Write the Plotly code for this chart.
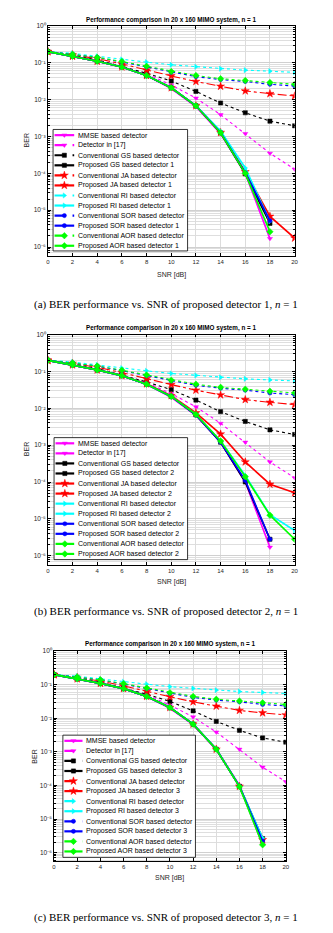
import plotly.graph_objects as go

W, H = 333, 933

# ---------------- data ----------------
snr = [0, 2, 4, 6, 8, 10, 12, 14, 16, 18, 20]

mmse = [0.2, 0.15, 0.11, 0.077, 0.045, 0.02, 0.0065, 0.0012, 1.0e-4, 1.7e-6, None]
det17 = [0.2, 0.155, 0.115, 0.08, 0.05, 0.025, 0.011, 0.0039, 0.0012, 3.5e-4, 1.3e-4]
conv_gs = [0.2, 0.16, 0.12, 0.08, 0.052, 0.032, 0.0167, 0.0081, 0.0044, 0.0026, 0.00195]
conv_ja = [0.2, 0.165, 0.13, 0.093, 0.063, 0.044, 0.031, 0.023, 0.0172, 0.0145, 0.0126]
conv_ri = [0.2, 0.18, 0.15, 0.123, 0.104, 0.088, 0.078, 0.069, 0.063, 0.059, 0.055]
conv_sor = [0.2, 0.17, 0.14, 0.105, 0.077, 0.055, 0.042, 0.035, 0.031, 0.026, 0.0234]
conv_aor = [0.2, 0.17, 0.14, 0.108, 0.08, 0.058, 0.045, 0.037, 0.033, 0.029, 0.026]

# panel (a): proposed detector 1
p1_gs = [0.2, 0.15, 0.11, 0.077, 0.045, 0.021, 0.0068, 0.00126, 9.7e-5, 4.4e-6, None]
p1_ja = [0.2, 0.15, 0.11, 0.077, 0.045, 0.021, 0.0068, 0.00128, 1.1e-4, 6.8e-6, 1.75e-6]
p1_ri = [0.2, 0.15, 0.11, 0.077, 0.045, 0.021, 0.0069, 0.0014, 1.4e-4, 5.0e-6, None]
p1_sor = [0.2, 0.15, 0.11, 0.077, 0.045, 0.021, 0.0068, 0.00128, 1.05e-4, 5.2e-6, None]
p1_aor = [0.2, 0.15, 0.11, 0.077, 0.045, 0.021, 0.0068, 0.00126, 1.0e-4, 2.6e-6, None]

# panel (b): proposed detector 2
p2_gs = [0.2, 0.15, 0.11, 0.077, 0.045, 0.021, 0.0066, 0.0012, 1.0e-4, 2.8e-6, None]
p2_ja = [0.2, 0.15, 0.11, 0.077, 0.046, 0.022, 0.0075, 0.002, 3.5e-4, 8.7e-5, 5.1e-5]
p2_ri = [0.2, 0.15, 0.11, 0.077, 0.045, 0.021, 0.0068, 0.0013, 1.5e-4, 1.3e-5, 4.8e-6]
p2_sor = [0.2, 0.15, 0.11, 0.077, 0.045, 0.021, 0.0066, 0.0012, 1.1e-4, 2.8e-6, None]
p2_aor = [0.2, 0.15, 0.11, 0.077, 0.045, 0.021, 0.0068, 0.0013, 1.4e-4, 1.26e-5, 2.8e-6]

# panel (c): proposed detector 3
p3_gs = [0.2, 0.15, 0.11, 0.077, 0.045, 0.021, 0.0067, 0.0012, 9.4e-5, 2.6e-6, None]
p3_ja = [0.2, 0.15, 0.11, 0.077, 0.045, 0.021, 0.0067, 0.0012, 9.4e-5, 2.4e-6, None]
p3_ri = [0.2, 0.15, 0.11, 0.077, 0.045, 0.021, 0.0068, 0.00122, 9.6e-5, 2.7e-6, None]
p3_sor = [0.2, 0.15, 0.11, 0.077, 0.045, 0.021, 0.0067, 0.0012, 9.4e-5, 2.2e-6, None]
p3_aor = [0.2, 0.15, 0.11, 0.077, 0.045, 0.021, 0.0067, 0.0012, 9.2e-5, 1.7e-6, None]

x_ticks = [0, 2, 4, 6, 8, 10, 12, 14, 16, 18, 20]
y_decades = [0, -1, -2, -3, -4, -5, -6]
y_ticktext = ["10\u2070", "10\u207b\u00b9", "10\u207b\u00b2", "10\u207b\u00b3",
              "10\u207b\u2074", "10\u207b\u2075", "10\u207b\u2076"]

title_text = "Performance comparison in 20 x 160 MIMO system, n = 1"
captions = [
    "(a) BER performance vs. SNR of proposed detector 1, <i>n</i> = 1",
    "(b) BER performance vs. SNR of proposed detector 2, <i>n</i> = 1",
    "(c) BER performance vs. SNR of proposed detector 3, <i>n</i> = 1",
]

# ---------------- styles ----------------
MAG, BLK, RED, CYA, BLU, GRN = "#ff00ff", "#000000", "#ff0000", "#00ffff", "#0000ff", "#00ff00"
SANS = "Liberation Sans, Arial, sans-serif"
SERIF = "Liberation Serif, Times New Roman, serif"

def series(k, pg, pj, pr, ps, pa):
    return [
        ("MMSE based detector", mmse, MAG, "triangle-down", "solid", 1.7, True),
        ("Detector in [17]", det17, MAG, "triangle-down", "dot", 1.1, False),
        ("Conventional GS based detector", conv_gs, BLK, "square", "dot", 1.1, False),
        (f"Proposed GS based detector {k}", pg, BLK, "square", "solid", 1.7, True),
        ("Conventional JA based detector", conv_ja, RED, "star", "dashdot", 1.1, False),
        (f"Proposed JA based detector {k}", pj, RED, "star", "solid", 1.7, True),
        ("Conventional RI based detector", conv_ri, CYA, "triangle-right", "dot", 1.1, False),
        (f"Proposed RI based detector {k}", pr, CYA, "triangle-right", "solid", 1.7, True),
        ("Conventional SOR based detector", conv_sor, BLU, "circle", "dot", 1.1, False),
        (f"Proposed SOR based detector {k}", ps, BLU, "circle", "solid", 1.7, True),
        ("Conventional AOR based detector", conv_aor, GRN, "diamond", "dot", 1.1, False),
        (f"Proposed AOR based detector {k}", pa, GRN, "diamond", "solid", 1.7, True),
    ]

marker_size = {"triangle-down": 4.5, "square": 4.2, "star": 6, "triangle-right": 4.5,
               "circle": 4.2, "diamond": 5}

# pixel geometry of each panel
panels = [
    dict(x0=46.7, x1=298, yt=22, yb=253, ylo=-6.24, title_y=16, xlab_y=272, ylab_x=25,
         cap_y=302, leg=(52, 189, 126, 248), leg_text_x=75, leg_first=131.7,
         leg_dash="dash", ser=series(1, p1_gs, p1_ja, p1_ri, p1_sor, p1_aor)),
    dict(x0=46.7, x1=298, yt=332, yb=563, ylo=-6.24, title_y=325, xlab_y=580, ylab_x=25,
         cap_y=610, leg=(53, 189, 435.5, 558), leg_text_x=75, leg_first=441.2,
         leg_dash="solid", ser=series(2, p2_gs, p2_ja, p2_ri, p2_sor, p2_aor)),
    dict(x0=53, x1=289, yt=650, yb=861, ylo=-6.26, title_y=643, xlab_y=878, ylab_x=33,
         cap_y=917, leg=(62, 197, 734.3, 857), leg_text_x=83.5, leg_first=740,
         leg_dash="dash", ser=series(3, p3_gs, p3_ja, p3_ri, p3_sor, p3_aor)),
]
leg_step = 10.1

def paper_x(px):
    return px / W

def paper_y(py):
    return 1 - py / H

fig = go.Figure()
layout = dict(width=W, height=H, margin=dict(l=0, r=0, t=0, b=0),
              paper_bgcolor="white", plot_bgcolor="rgba(0,0,0,0)",
              showlegend=False, font=dict(family=SANS, color="#262626"))
annotations = []

minor_vals = [m * 10 ** d for d in range(-7, 1) for m in range(2, 10)]

for i, p in enumerate(panels, start=1):
    xa, ya = f"x{i}", f"y{i}"
    for (name, yv, col, sym, dash, lw, solid) in p["ser"]:
        fig.add_trace(go.Scatter(
            x=snr, y=yv, mode="lines+markers", name=name,
            line=dict(color=col, width=lw, dash=dash),
            marker=dict(symbol=sym, size=marker_size[sym], color=col,
                        line=dict(color=col, width=0.5)),
            xaxis=xa, yaxis=ya, hoverinfo="skip", connectgaps=False))
    key = "" if i == 1 else str(i)
    layout["xaxis" + key] = dict(
        domain=[paper_x(p["x0"]), paper_x(p["x1"])], range=[0, 20], anchor=ya,
        tickmode="array", tickvals=x_ticks, ticktext=[str(v) for v in x_ticks],
        ticks="inside", ticklen=3, tickwidth=0.7, tickcolor="black",
        showline=True, linecolor="black", linewidth=0.8, mirror="ticks",
        showgrid=True, gridcolor="#dcdcdc", gridwidth=0.6, zeroline=False,
        tickfont=dict(size=6, color="#262626", family=SANS), fixedrange=True)
    layout["yaxis" + key] = dict(
        type="log", domain=[paper_y(p["yb"]), paper_y(p["yt"])], range=[p["ylo"], 0],
        anchor=xa, tickmode="array", tickvals=[10 ** d for d in y_decades],
        ticktext=y_ticktext,
        ticks="inside", ticklen=3, tickwidth=0.7, tickcolor="black",
        showline=True, linecolor="black", linewidth=0.8, mirror="ticks",
        showgrid=True, gridcolor="#d0d0d0", gridwidth=0.6, zeroline=False,
        minor=dict(tickmode="array", tickvals=minor_vals, ticks="inside", ticklen=1.8,
                   tickwidth=0.5, tickcolor="black", showgrid=True,
                   gridcolor="#dedede", gridwidth=0.6),
        tickfont=dict(size=6.5, color="#262626", family=SANS), fixedrange=True)

    cx = (p["x0"] + p["x1"]) / 2
    annotations += [
        dict(x=cx, y=p["title_y"], text="<b>" + title_text + "</b>",
             font=dict(size=6.3, color="black", family=SANS)),
        dict(x=cx, y=p["xlab_y"], text="SNR [dB]", font=dict(size=7, color="#262626", family=SANS)),
        dict(x=p["ylab_x"], y=(p["yt"] + p["yb"]) / 2, text="BER", textangle=-90,
             font=dict(size=7, color="#262626", family=SANS)),
        dict(x=166.5, y=p["cap_y"], text=captions[i - 1],
             font=dict(size=11, color="black", family=SERIF)),
    ]

# ---------------- overlay (legends drawn in pixel coordinates) ----------------
OV_X, OV_Y = "x4", "y4"
layout["xaxis4"] = dict(domain=[0, 1], range=[0, W], visible=False, fixedrange=True, anchor="y4")
layout["yaxis4"] = dict(domain=[0, 1], range=[H, 0], visible=False, fixedrange=True, anchor="x4")

for p in panels:
    l, r, t, b = p["leg"]
    fig.add_trace(go.Scatter(x=[l, r, r, l, l], y=[t, t, b, b, t], mode="lines",
                             fill="toself", fillcolor="white",
                             line=dict(color="black", width=0.8),
                             xaxis=OV_X, yaxis=OV_Y, hoverinfo="skip"))
    sx0, sx1 = l + 1.5, p["leg_text_x"] - 1.5
    for j, (name, yv, col, sym, dash, lw, solid) in enumerate(p["ser"]):
        yy = p["leg_first"] + j * leg_step
        d = "solid" if solid else p["leg_dash"]
        fig.add_trace(go.Scatter(x=[sx0, sx1], y=[yy, yy], mode="lines",
                                 line=dict(color=col, width=2.2, dash=d),
                                 xaxis=OV_X, yaxis=OV_Y, hoverinfo="skip"))
        fig.add_trace(go.Scatter(x=[(sx0 + sx1) / 2], y=[yy], mode="markers",
                                 marker=dict(symbol=sym, size=marker_size[sym], color=col,
                                             line=dict(color=col, width=0.5)),
                                 xaxis=OV_X, yaxis=OV_Y, hoverinfo="skip"))
        annotations.append(dict(x=p["leg_text_x"], y=yy, text=name, xanchor="left",
                                font=dict(size=7, color="black", family=SANS)))

for a in annotations:
    a.setdefault("xanchor", "center")
    a["x"] = paper_x(a["x"])
    a["y"] = paper_y(a["y"])
    a.update(xref="paper", yref="paper", yanchor="middle", showarrow=False)
layout["annotations"] = annotations

fig.update_layout(**layout)
fig.write_html("out.html")
